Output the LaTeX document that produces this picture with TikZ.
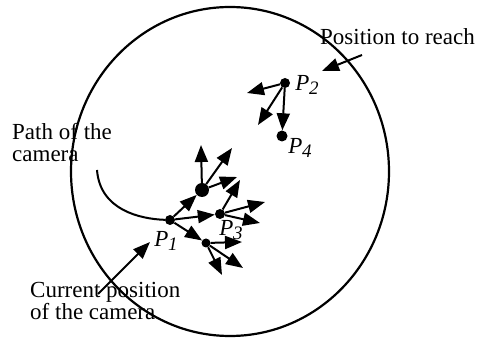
\documentclass[tikz,border=0pt]{standalone}
\usepackage{fontspec}
\setmainfont{Liberation Serif}
\usetikzlibrary{arrows.meta}
\newcommand{\pname}[1]{\textit{P\kern-0.5pt\raisebox{-0.3ex}{\fontsize{19}{19}\selectfont #1}}}

\begin{document}
\begin{tikzpicture}[x=1pt,y=-1pt,font=\fontsize{23}{22}\selectfont,
  dot/.style={circle,fill,inner sep=0pt,minimum size=10pt},
  bigdot/.style={dot,minimum size=14pt},
  lbl/.style={inner sep=0pt},
  txt/.style={align=left,inner sep=0pt,anchor=base west},
  arr/.style={-{Triangle[length=17pt,width=13pt]},line width=2pt}]
\useasboundingbox (0,0) rectangle (477,352);
\draw[line width=2.2pt] (230,171.5) ellipse [x radius=159pt,y radius=164.5pt];
% texts
\node[txt] (path) at (12,162) {Path of the\\camera};
\node[txt] (cur) at (30,320) {Current position\\of the camera};
\node[txt] (goal) at (320,45) {Position to reach};
% positions
\node[dot] (p1) at (170,220) {};
\node[bigdot] (qa) at (202,190) {};
\node[dot] (p3) at (220,214) {};
\node[dot,minimum size=9pt] (qb) at (206,243) {};
\node[dot] (p2) at (285,83) {};
\node[dot,minimum size=11pt] (p4) at (282,136) {};
\node[lbl] (l1) at (166,241) {\pname{1}};
\node[lbl] (l3) at (231,230) {\pname{3}};
\node[lbl] (l2) at (307,85) {\pname{2}};
\node[lbl] (l4) at (300,148) {\pname{4}};
% free ends
\foreach \n/\p in {a1/{201,145},a2/{232,148},a3/{237,177},
                   c1/{240,180},c2/{265,202},c3/{260,223},
                   b1/{242,242},b2/{243,268},b3/{222,275},
                   d1/{247,93},d2/{258,125},
                   ps/{97,170},cs/{98,294},ct/{150,242},gs/{362,55},gt/{322,71}}
  \coordinate (\n) at (\p);
% connectors
\draw[line width=2pt] (ps) .. controls (100,210) and (140,219) .. (p1);
\foreach \i in {qa,p3,qb} \draw[arr] (p1) -- (\i);
\foreach \i in {a1,a2,a3} \draw[arr] (qa) -- (\i);
\foreach \i in {c1,c2,c3} \draw[arr] (p3) -- (\i);
\foreach \i in {b1,b2,b3} \draw[arr] (qb) -- (\i);
\foreach \i in {d1,d2,p4} \draw[arr] (p2) -- (\i);
\draw[arr] (cs) -- (ct);
\draw[arr] (gs) -- (gt);
\end{tikzpicture}
\end{document}
